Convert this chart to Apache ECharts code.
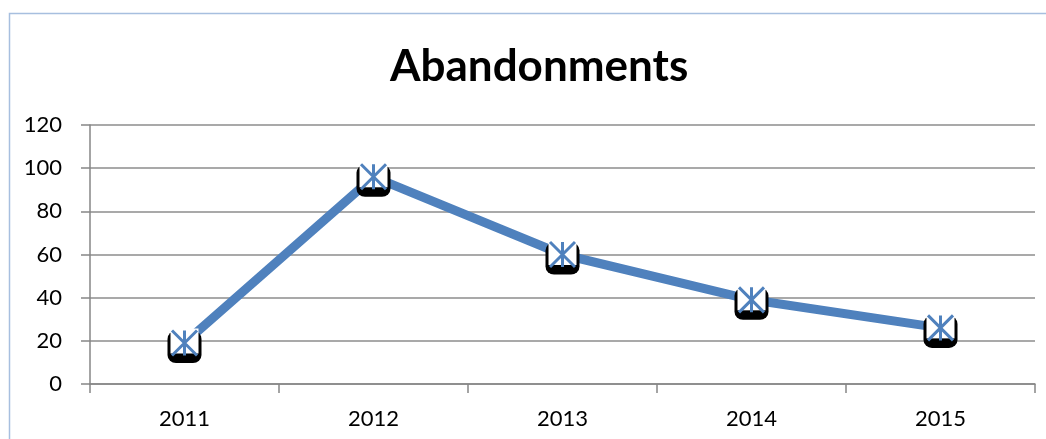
<!DOCTYPE html>
<html><head><meta charset="utf-8">
<script src="https://cdn.jsdelivr.net/npm/echarts@6/dist/echarts.min.js"></script>
<style>html,body{margin:0;padding:0;background:#fff}#c{width:1046px;height:439px}</style>
</head><body><div id="c"></div>
<script>
const categories = ['2011','2012','2013','2014','2015'];
const values = [19, 96, 60, 39, 26];
const yTicks = [0, 20, 40, 60, 80, 100, 120];

const chart = echarts.init(document.getElementById('c'));
const FONT = 'Lato, "Open Sans", sans-serif';
chart.setOption({
  animation: false,
  graphic: [{type:'rect', left:7, top:11, shape:{width:1100, height:500}, style:{fill:'none', stroke:'#a7bfdf', lineWidth:1.5}, z:-1}],
  title: {text:'Abandonments', left:385, top:40, textStyle:{fontFamily:FONT, fontWeight:'bold', fontSize:44, color:'#000'}},
  grid: {left:90, right:11, top:125, bottom:55, containLabel:false},
  xAxis: {type:'category', data:categories, boundaryGap:true,
    axisLine:{lineStyle:{color:'#868686', width:1.5}},
    axisTick:{show:true, length:9, lineStyle:{color:'#868686', width:1.5}},
    axisLabel:{fontFamily:FONT, fontSize:22, color:'#000', margin:24}},
  yAxis: {type:'value', min:yTicks[0], max:yTicks[yTicks.length-1], interval:20,
    axisLine:{show:true, lineStyle:{color:'#868686', width:1.5}},
    axisTick:{show:true, length:9, lineStyle:{color:'#868686', width:1.5}},
    splitLine:{lineStyle:{color:'#8c8c8c', width:1.5}},
    axisLabel:{fontFamily:FONT, fontSize:22, color:'#000', margin:28}},
  series: [
    {type:'line', data:values, symbol:'none', lineStyle:{color:'#4f81bd', width:9}, z:2},
    {type:'scatter', data:values, symbol:'roundRect', symbolSize:[34,32], symbolOffset:[0,4],
     itemStyle:{color:'#000', opacity:1}, z:3, silent:true},
    {type:'scatter', data:values, symbol:'rect', symbolSize:[28,25], symbolOffset:[0,-2],
     itemStyle:{color:'#fff', opacity:1}, z:4, silent:true},
    {type:'scatter', data:values, symbol:'path://M0,0L10,10M10,0L0,10M5,0L5,10', symbolSize:25,
     itemStyle:{color:'none', borderColor:'#4f81bd', borderWidth:3, opacity:1}, z:5, silent:true}
  ]
});
</script></body></html>
